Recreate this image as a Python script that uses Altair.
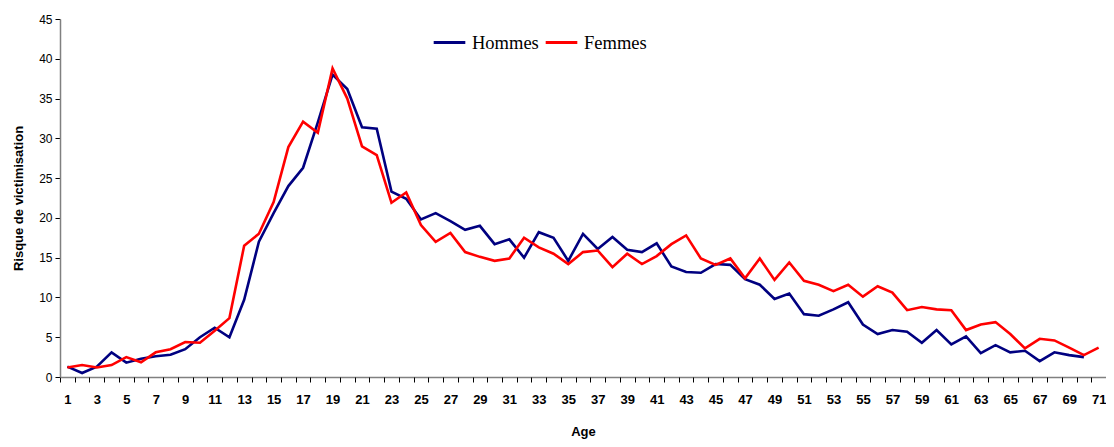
import altair as alt
import pandas as pd

ages = list(range(1, 72))
hommes = [1.3, 0.5, 1.3, 3.1, 1.8, 2.3, 2.6, 2.8, 3.5, 5.0,
          6.2, 5.0, 9.7, 17.0, 20.6, 24.0, 26.3, 32.0, 38.0, 36.2,
          31.4, 31.2, 23.3, 22.4, 19.8, 20.6, 19.6, 18.5, 19.0, 16.7,
          17.3, 15.0, 18.2, 17.5, 14.6, 18.0, 16.1, 17.6, 16.0, 15.7,
          16.8, 13.9, 13.2, 13.1, 14.2, 14.1, 12.3, 11.6, 9.8, 10.5,
          7.9, 7.7, 8.5, 9.4, 6.6, 5.4, 5.9, 5.7, 4.3, 5.9,
          4.1, 5.1, 3.0, 4.0, 3.1, 3.3, 2.0, 3.1, 2.75, 2.5]
femmes = [1.2, 1.5, 1.2, 1.5, 2.5, 1.85, 3.1, 3.5, 4.4, 4.3,
          5.8, 7.4, 16.5, 18.0, 22.0, 28.9, 32.1, 30.7, 38.8, 35.0,
          29.0, 27.9, 21.9, 23.2, 19.1, 17.0, 18.1, 15.7, 15.1, 14.6,
          14.9, 17.5, 16.3, 15.5, 14.2, 15.7, 15.9, 13.8, 15.5, 14.2,
          15.2, 16.7, 17.8, 14.9, 14.1, 14.9, 12.4, 14.9, 12.2, 14.4,
          12.1, 11.6, 10.8, 11.6, 10.1, 11.4, 10.6, 8.4, 8.8, 8.5,
          8.4, 5.9, 6.6, 6.9, 5.4, 3.6, 4.8, 4.6, 3.7, 2.75, 3.7]
series_names = ["Hommes", "Femmes"]
series_colors = ["#000080", "#FF0000"]
x_label_values = list(range(1, 72, 2))
y_tick_values = list(range(0, 46, 5))

rows = []
for a, v in zip(ages, hommes):
    rows.append({"Age": a, "Serie": "Hommes", "Risque": v})
for a, v in zip(ages, femmes):
    rows.append({"Age": a, "Serie": "Femmes", "Risque": v})
df = pd.DataFrame(rows)

color = alt.Color(
    "Serie:N",
    scale=alt.Scale(domain=series_names, range=series_colors),
    legend=alt.Legend(
        title=None, orient="none", legendX=372, legendY=6,
        direction="horizontal", symbolType="stroke", symbolSize=1000,
        symbolStrokeWidth=3, labelFont="Liberation Serif", labelFontSize=18.5,
        labelColor="black", columnPadding=0, labelOffset=5, padding=0,
    ),
)

xscale = alt.Scale(domain=[0.5, 71.5], nice=False, zero=False)
yscale = alt.Scale(domain=[0, 45], nice=False, zero=True)

x_labels = alt.X(
    "Age:Q", scale=xscale, title="Age",
    axis=alt.Axis(
        orient="bottom", values=x_label_values, ticks=False, grid=False,
        domain=True, domainColor="#808080", domainWidth=1.5,
        labelFont="Liberation Sans", labelFontWeight="bold", labelFontSize=13,
        labelColor="black", labelPadding=16, labelFlush=False,
        titleFont="Liberation Sans", titleFontWeight="bold", titleFontSize=13,
        titleColor="black", titlePadding=19,
    ),
)
x_ticks = alt.X(
    "Age:Q", scale=xscale, title=None,
    axis=alt.Axis(
        orient="bottom", values=[v - 0.5 for v in ages] + [ages[-1] + 0.5],
        labels=False, domain=False, grid=False, ticks=True, tickSize=5,
        tickColor="black", tickWidth=1,
    ),
)
y = alt.Y(
    "Risque:Q", scale=yscale, title="Risque de victimisation",
    axis=alt.Axis(
        values=y_tick_values, grid=False, tickSize=5, tickColor="black",
        domainColor="#808080", domainWidth=1.5,
        labelFont="Liberation Sans", labelFontSize=12, labelColor="black",
        labelPadding=3,
        titleFont="Liberation Sans", titleFontWeight="bold", titleFontSize=13,
        titleColor="black", titlePadding=13,
    ),
)

line_h = (
    alt.Chart(df)
    .transform_filter(alt.datum.Serie == "Hommes")
    .mark_line(strokeWidth=2.6)
    .encode(x=x_labels, y=y, color=color)
)
line_f = (
    alt.Chart(df)
    .transform_filter(alt.datum.Serie == "Femmes")
    .mark_line(strokeWidth=2.6)
    .encode(x=x_ticks, y=y, color=color)
)

chart = (
    alt.layer(line_h, line_f)
    .resolve_axis(x="independent")
    .properties(
        width=1046, height=358,
        autosize=alt.AutoSizeParams(type="none"),
        padding={"left": 52, "top": 11, "right": 0, "bottom": 62},
    )
    .configure_view(stroke=None)
)

chart.save("out.html", embed_options={"renderer": "svg", "actions": False})
